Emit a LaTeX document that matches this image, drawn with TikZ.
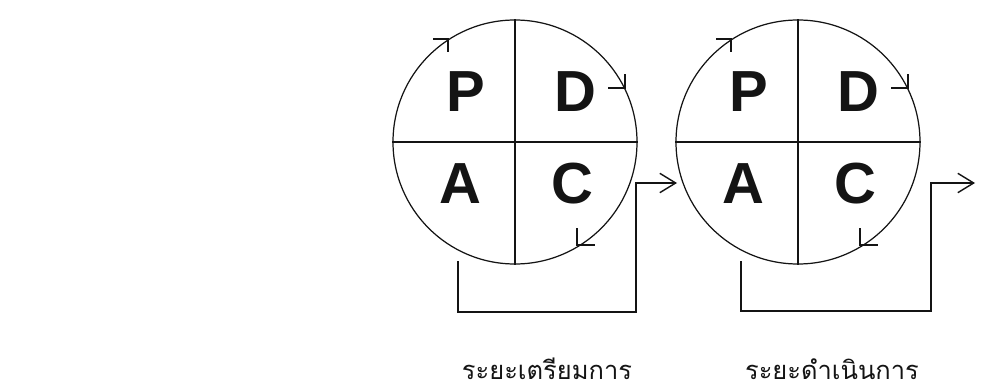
\documentclass[tikz,border=0pt]{standalone}
\usepackage{fontspec}
\setmainfont{Liberation Sans}
\newfontfamily\thaifont[Script=Thai]{Loma}
\usetikzlibrary{arrows.meta,calc}
\definecolor{ink}{RGB}{20,20,20}
\tikzset{
  every picture/.style={color=ink, line width=0.6pt, x=0.02cm, y=-0.02cm},
  wheel/.style={circle, draw=ink, line width=0.7pt, minimum size=244*0.02cm, inner sep=0pt},
  quad/.style={font=\bfseries\fontsize{33}{33}\selectfont, inner sep=0pt},
  tick/.style={line width=0.6pt},
  flow/.style={-{Straight Barb[length=9pt,width=11pt,line width=0.8pt]}, line width=1.1pt},
  stage/.style={font=\thaifont\fontsize{14.5}{14.5}\selectfont, inner sep=0pt},
}
\begin{document}
\begin{tikzpicture}
  \useasboundingbox (0,0) rectangle (998,392);
  % two PDCA wheels, one per stage
  \foreach \w/\x in {1/515,2/798} {
    \node[wheel] (w\w) at (\x,142) {};
    \draw (w\w.north) -- (w\w.south);
    \draw (w\w.west) -- (w\w.east);
    \node[quad] (p\w) at ($(w\w)+(-49,-50)$) {P};
    \node[quad] (d\w) at ($(w\w)+(60,-50)$) {D};
    \node[quad] (a\w) at ($(w\w)+(-55,42)$) {A};
    \node[quad] (c\w) at ($(w\w)+(57,42)$) {C};
    % small turn marks on the rim
    \draw[tick] ($(w\w)+(-82,-103)$) -- ($(w\w)+(-67,-103)$) -- ($(w\w)+(-67,-90)$);
    \draw[tick] ($(w\w)+(93,-54)$) -- ($(w\w)+(110,-54)$) -- ($(w\w)+(110,-68)$);
    \draw[tick] ($(w\w)+(62,86)$) -- ($(w\w)+(62,103)$) -- ($(w\w)+(80,103)$);
  }
  \coordinate (o1) at (458,261);
  \coordinate (e1) at (677,183);
  \coordinate (o2) at (741,261);
  \coordinate (e2) at (975,183);
  \draw[flow] (o1) |- (636,312) |- (e1);
  \draw[flow] (o2) |- (931,311) |- (e2);
  \node[stage] (s1) at (547,369) {ระยะเตรียมการ};
  \node[stage] (s2) at (832,369) {ระยะดำเนินการ};
\end{tikzpicture}
\end{document}
